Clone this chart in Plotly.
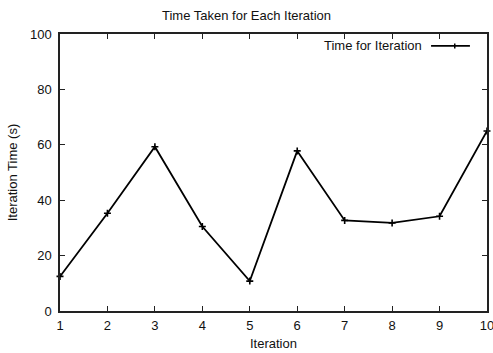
import plotly.graph_objects as go

iterations = [1, 2, 3, 4, 5, 6, 7, 8, 9, 10]
times = [12.5, 35.3, 59.3, 30.5, 10.8, 57.8, 32.7, 31.8, 34.2, 65.0]
series_name = "Time for Iteration"
x_ticks = [1, 2, 3, 4, 5, 6, 7, 8, 9, 10]
y_ticks = [0, 20, 40, 60, 80, 100]

FONT = "Liberation Sans, Arial, sans-serif"
FS = 13

fig = go.Figure()
fig.add_trace(go.Scatter(
    x=iterations, y=times, mode="lines+markers", name=series_name,
    line=dict(color="black", width=1.8),
    marker=dict(symbol="cross-thin", size=5, line=dict(color="black", width=1.6)),
    showlegend=False, cliponaxis=False,
))

axis_common = dict(
    showline=True, linecolor="#222", linewidth=1.5, mirror="ticks",
    ticks="inside", ticklen=5, tickwidth=1, tickcolor="#222",
    showgrid=False, zeroline=False, automargin=False,
    ticklabeloverflow="allow",
    tickfont=dict(family=FONT, size=FS, color="#111"),
)

fig.update_layout(
    width=493, height=353,
    margin=dict(l=60, r=6, t=34, b=42),
    paper_bgcolor="white", plot_bgcolor="white",
    font=dict(family=FONT, size=FS, color="#111"),
    title=dict(text="Time Taken for Each Iteration", x=0.5, xanchor="center",
               y=1 - 15 / 353, yanchor="middle", font=dict(family=FONT, size=FS)),
    xaxis=dict(range=[1, 10], tickvals=x_ticks, ticklabelstandoff=2,
               title=dict(text="Iteration", standoff=7, font=dict(family=FONT, size=FS)),
               **axis_common),
    yaxis=dict(range=[0, 100], tickvals=y_ticks, ticklabelstandoff=4,
               title=dict(text="Iteration Time (s)", standoff=9, font=dict(family=FONT, size=FS)),
               **axis_common),
)

# custom legend (key on the right of the text, gnuplot style)
ly = 0.957
fig.add_annotation(x=0.853, y=ly, xref="paper", yref="paper", text=series_name,
                   showarrow=False, xanchor="right", yanchor="middle",
                   font=dict(family=FONT, size=FS, color="#111"))
fig.add_shape(type="line", xref="paper", yref="paper", x0=0.869, x1=0.96, y0=ly, y1=ly,
              line=dict(color="black", width=1.8))
fig.add_shape(type="line", xref="paper", yref="paper", x0=0.9245, x1=0.9245, y0=ly - 0.009, y1=ly + 0.009,
              line=dict(color="black", width=1.5))

fig.write_html("out.html")
